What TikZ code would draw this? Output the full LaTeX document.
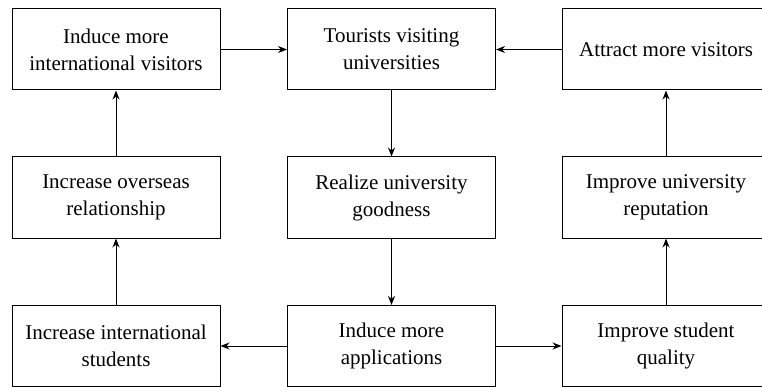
\documentclass[tikz,border=0pt]{standalone}
\usepackage{fontspec}
\setmainfont{Liberation Serif}
\usetikzlibrary{arrows.meta}
\tikzset{
  stepbox/.style={draw, line width=1pt, minimum width=208pt, minimum height=81pt,
    inner sep=0pt, align=center, font=\fontsize{21}{27}\selectfont},
  flow/.style={-{Stealth[length=9pt,width=7pt]}, line width=1pt}
}
\begin{document}
\begin{tikzpicture}[x=1pt,y=-1pt]
\clip (0,0) rectangle (762,387);
\useasboundingbox (0,0) rectangle (762,387);

\node[stepbox] (induce) at (116,49.5) {Induce more\\international visitors};
\node[stepbox] (tourists) at (391.5,49.5) {Tourists visiting\\universities};
\node[stepbox] (attract) at (666,49.5) {Attract more visitors};

\node[stepbox] (overseas) at (116,197.5) {Increase overseas\\relationship};
\node[stepbox] (realize) at (391.5,197.5) {Realize university\\goodness};
\node[stepbox] (reputation) at (666,197.5) {Improve university\\reputation};

\node[stepbox] (students) at (116,346) {Increase international\\students};
\node[stepbox] (applications) at (391.5,346) {Induce more\\applications};
\node[stepbox] (quality) at (666,346) {Improve student\\quality};

\draw[flow] (induce) -- (tourists);
\draw[flow] (attract) -- (tourists);
\draw[flow] (tourists) -- (realize);
\draw[flow] (realize) -- (applications);
\draw[flow] (applications) -- (students);
\draw[flow] (applications) -- (quality);
\draw[flow] (students) -- (overseas);
\draw[flow] (overseas) -- (induce);
\draw[flow] (quality) -- (reputation);
\draw[flow] (reputation) -- (attract);

\end{tikzpicture}
\end{document}
